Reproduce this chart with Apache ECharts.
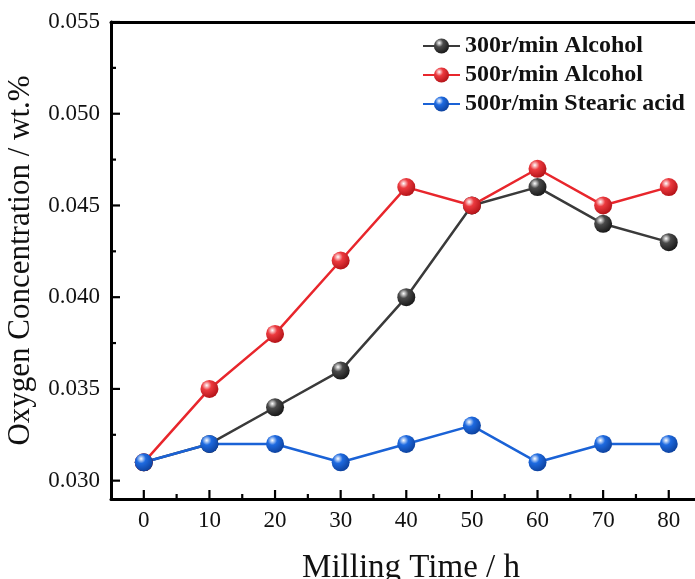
<!DOCTYPE html>
<html><head><meta charset="utf-8">
<script src="https://cdn.jsdelivr.net/npm/echarts@6/dist/echarts.min.js"></script>
<style>html,body{margin:0;padding:0;background:#fff}#c{width:695px;height:579px}</style>
</head><body><div id="c"></div>
<script>
var categories = [0, 10, 20, 30, 40, 50, 60, 70, 80];
var s300Alcohol = [0.031, 0.032, 0.034, 0.036, 0.040, 0.045, 0.046, 0.044, 0.043];
var s500Alcohol = [0.031, 0.035, 0.038, 0.042, 0.046, 0.045, 0.047, 0.045, 0.046];
var s500Stearic = [0.031, 0.032, 0.032, 0.031, 0.032, 0.033, 0.031, 0.032, 0.032];
var yTicks = [0.030, 0.035, 0.040, 0.045, 0.050, 0.055];
var yMinorTicks = [0.0325, 0.0375, 0.0425, 0.0475, 0.0525];
var xTicks = [0, 10, 20, 30, 40, 50, 60, 70, 80];
var xMinorTicks = [5, 15, 25, 35, 45, 55, 65, 75];

var font = 'Liberation Serif';
var X_MIN = -5, X_MAX = 84, Y_MIN = 0.029, Y_MAX = 0.055;
function ball(base, dark) {
  return {type:'radial', x:0.35, y:0.3, r:0.75, colorStops:[
    {offset:0, color:'#ffffff'}, {offset:0.35, color:base}, {offset:1, color:dark}]};
}
function pairs(arr){ return categories.map(function(c,i){ return [c, arr[i]]; }); }
function mkSeries(name, data, line, base, dark){
  return {name:name, type:'line', data:pairs(data), xAxisIndex:0, yAxisIndex:0,
    symbol:'circle', symbolSize:18, z:3,
    lineStyle:{color:line, width:2.5},
    itemStyle:{color:ball(base, dark), borderWidth:0},
    emphasis:{disabled:true}};
}
// inward tick marks drawn through the axis scales
function tickSeries(vals, dir, len){
  return {type:'custom', xAxisIndex:0, yAxisIndex:0, clip:false, silent:true, z:5,
    data: vals.map(function(v){ return [v]; }),
    renderItem:function(params, api){
      var v = api.value(0), p;
      if (dir === 'x') {
        p = api.coord([v, Y_MIN]);
        return {type:'line', shape:{x1:p[0], y1:p[1], x2:p[0], y2:p[1]-len}, style:{stroke:'#000', lineWidth:2.2}};
      }
      p = api.coord([X_MIN, v]);
      return {type:'line', shape:{x1:p[0], y1:p[1], x2:p[0]+len, y2:p[1]}, style:{stroke:'#000', lineWidth:2.2}};
    }};
}
var chart = echarts.init(document.getElementById('c'));
chart.setOption({
  animation:false,
  backgroundColor:'#fff',
  grid:{left:111, top:22, right:0, bottom:80, outerBoundsMode:'none', containLabel:false},
  legend:{orient:'vertical', left:417, top:29, itemGap:5, itemWidth:37, itemHeight:19,
    textStyle:{fontFamily:font, fontWeight:'bold', fontSize:24, color:'#111'},
    data:['300r/min Alcohol','500r/min Alcohol','500r/min Stearic acid']},
  xAxis:[
    {type:'value', min:X_MIN, max:X_MAX, position:'bottom',
      name:'Milling Time / h', nameLocation:'middle', nameGap:53,
      nameTextStyle:{fontFamily:font, fontSize:33, color:'#111', padding:[0,0,0,16]},
      axisLine:{show:true, onZero:false, lineStyle:{color:'#000', width:3}},
      axisTick:{show:false},
      axisLabel:{fontFamily:font, fontSize:23, color:'#111', margin:10, customValues:xTicks},
      splitLine:{show:false}},
    {type:'value', min:X_MIN, max:X_MAX, position:'top',
      axisLine:{show:true, onZero:false, lineStyle:{color:'#000', width:3}},
      axisTick:{show:false}, axisLabel:{show:false}, splitLine:{show:false}}
  ],
  yAxis:[
    {type:'value', min:Y_MIN, max:Y_MAX, position:'left',
      name:'Oxygen Concentration / wt.%', nameLocation:'middle', nameGap:75,
      nameTextStyle:{fontFamily:font, fontSize:31, color:'#111'},
      axisLine:{show:true, onZero:false, lineStyle:{color:'#000', width:3}},
      axisTick:{show:false},
      axisLabel:{fontFamily:font, fontSize:23, color:'#111', margin:11, customValues:yTicks,
        formatter:function(v){ return v.toFixed(3); }},
      splitLine:{show:false}}
  ],
  series:[
    mkSeries('300r/min Alcohol', s300Alcohol, '#3a3a3a', '#4a4a4a', '#151515'),
    mkSeries('500r/min Alcohol', s500Alcohol, '#e8262c', '#ec3a3f', '#b01015'),
    mkSeries('500r/min Stearic acid', s500Stearic, '#1a62d6', '#1e6ae0', '#0c3f9a'),
    tickSeries(xTicks, 'x', 9),
    tickSeries(xMinorTicks, 'x', 5),
    tickSeries(yTicks, 'y', 9),
    tickSeries(yMinorTicks, 'y', 5)
  ]
});
</script></body></html>
